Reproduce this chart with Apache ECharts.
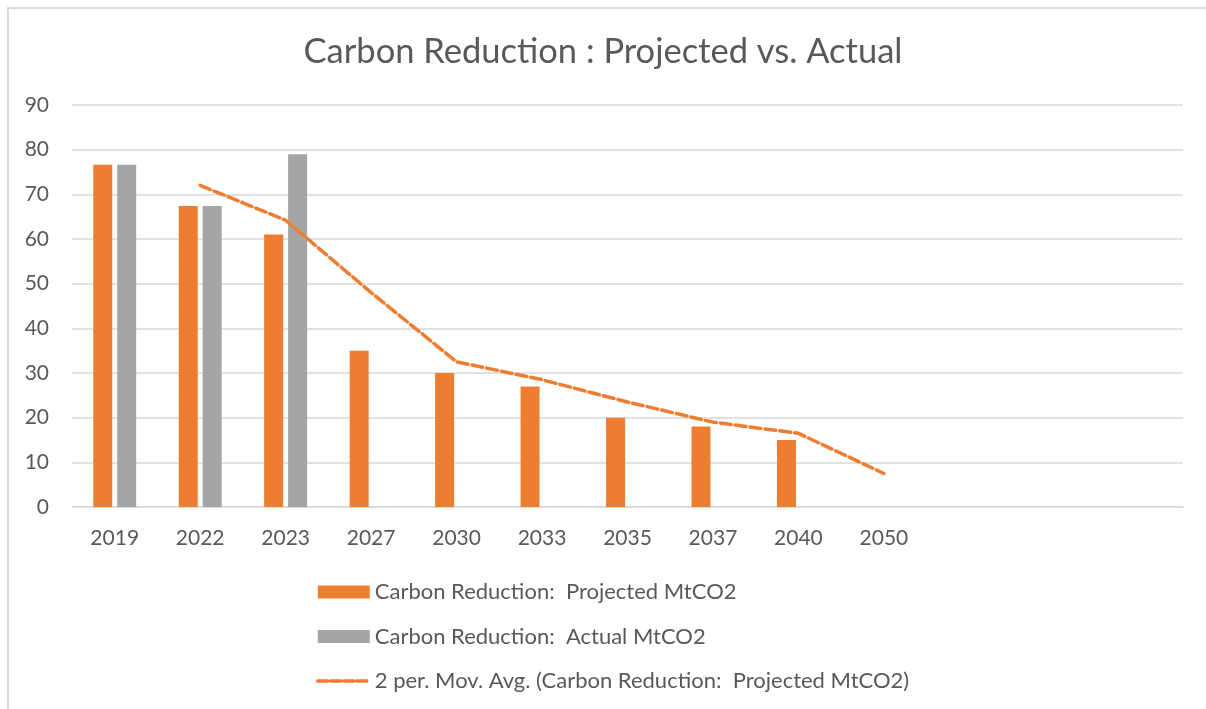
<!DOCTYPE html>
<html>
<head>
<meta charset="utf-8">
<script src="https://cdn.jsdelivr.net/npm/echarts@6/dist/echarts.min.js"></script>
<style>
html,body{margin:0;padding:0;background:#fff;}
#chart{position:absolute;left:0;top:0;width:1206px;height:709px;}
#frame{position:absolute;left:7px;top:7px;right:0;bottom:0;border-left:2px solid #d9d9d9;border-top:2px solid #d9d9d9;pointer-events:none;}
</style>
</head>
<body>
<div id="chart"></div>
<div id="frame"></div>
<script>
const categories = ['2019','2022','2023','2027','2030','2033','2035','2037','2040','2050','','',''];
const projected = [76.6, 67.4, 61, 35, 30, 27, 20, 18, 15, null, null, null, null];
const actual = [76.6, 67.4, 79, null, null, null, null, null, null, null, null, null, null];
const movingAvg = [null, 72.0, 64.2, 48, 32.5, 28.5, 23.5, 19, 16.5, 7.5, null, null, null];
const yTicks = { min: 0, max: 90, interval: 10 };

const FONT = 'Lato';
const TXT = '#595959';
const ORANGE = '#ED7D31';
const GRAY = '#A5A5A5';
const GRID = '#D9D9D9';

const chart = echarts.init(document.getElementById('chart'), null, {renderer: 'canvas'});
chart.setOption({
  animation: false,
  backgroundColor: '#fff',
  title: {
    text: 'Carbon Reduction : Projected vs. Actual',
    left: 'center',
    top: 29,
    textStyle: {fontFamily: FONT, fontSize: 34.5, fontWeight: 'normal', color: TXT}
  },
  grid: {left: 72, right: 23, top: 105, bottom: 202, containLabel: false},
  legend: {
    orient: 'vertical',
    left: 316,
    top: 581,
    padding: 0,
    itemGap: 22.5,
    itemWidth: 52,
    itemHeight: 13,
    textStyle: {fontFamily: FONT, fontSize: 22, color: TXT, lineHeight: 22, padding: [0,0,0,0]},
    data: [
      {name: 'Carbon Reduction:  Projected MtCO2', icon: 'rect'},
      {name: 'Carbon Reduction:  Actual MtCO2', icon: 'rect'},
      {name: '2 per. Mov. Avg. (Carbon Reduction:  Projected MtCO2)', itemStyle: {opacity: 0},
       lineStyle: {width: 3.5, type: [10, 3], color: ORANGE}}
    ]
  },
  xAxis: {
    type: 'category',
    data: categories,
    axisLine: {lineStyle: {color: GRID, width: 1.5}},
    axisTick: {show: false},
    axisLabel: {fontFamily: FONT, fontSize: 21, color: TXT, margin: 21, interval: 0}
  },
  yAxis: {
    type: 'value',
    min: yTicks.min,
    max: yTicks.max,
    interval: yTicks.interval,
    axisLine: {show: false},
    axisTick: {show: false},
    splitLine: {lineStyle: {color: GRID, width: 1.5}},
    axisLabel: {fontFamily: FONT, fontSize: 21, color: TXT, margin: 23}
  },
  series: [
    {
      name: 'Carbon Reduction:  Projected MtCO2',
      type: 'bar',
      data: projected,
      barWidth: 19,
      barGap: '26%',
      itemStyle: {color: ORANGE}
    },
    {
      name: 'Carbon Reduction:  Actual MtCO2',
      type: 'bar',
      data: actual,
      barWidth: 19,
      barGap: '26%',
      itemStyle: {color: GRAY}
    },
    {
      name: '2 per. Mov. Avg. (Carbon Reduction:  Projected MtCO2)',
      type: 'line',
      data: movingAvg,
      symbol: 'none',
      connectNulls: false,
      itemStyle: {color: ORANGE},
      lineStyle: {color: ORANGE, width: 3.5, type: [11, 4], cap: 'round'},
      z: 5
    }
  ]
});
</script>
</body>
</html>
